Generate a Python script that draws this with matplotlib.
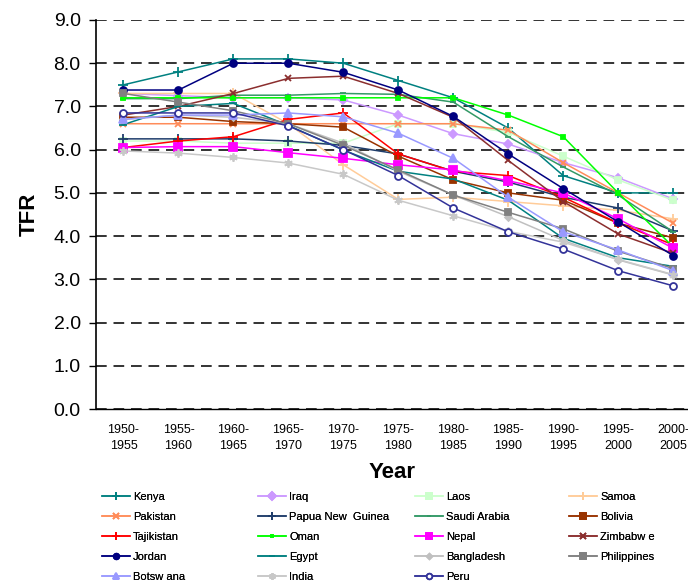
#!/usr/bin/env python3
# -*- coding: utf-8 -*-

import matplotlib
matplotlib.use('Agg')
import matplotlib.pyplot as plt

plt.rcParams['font.family'] = ['Liberation Sans', 'DejaVu Sans']

periods = ['1950-\n1955', '1955-\n1960', '1960-\n1965', '1965-\n1970', '1970-\n1975',
           '1975-\n1980', '1980-\n1985', '1985-\n1990', '1990-\n1995', '1995-\n2000',
           '2000-\n2005']

# TFR per country
kenya = [7.5, 7.8, 8.1, 8.1, 8.0, 7.6, 7.2, 6.5, 5.4, 5.0, 5.0]
iraq = [7.3, 7.25, 7.2, 7.2, 7.15, 6.8, 6.37, 6.13, 5.7, 5.35, 4.86]
laos = [6.2, 6.2, 6.15, 6.15, 6.15, 6.6, 6.6, 6.4, 5.85, 5.3, 4.83]
samoa = [7.3, 7.3, 7.3, 6.6, 5.65, 4.85, 4.9, 4.8, 4.7, 4.6, 4.4]
pakistan = [6.6, 6.6, 6.6, 6.6, 6.6, 6.6, 6.6, 6.45, 5.7, 5.0, 4.3]
png = [6.25, 6.25, 6.25, 6.2, 6.1, 5.9, 5.5, 5.25, 4.9, 4.65, 4.12]
saudi = [7.18, 7.18, 7.26, 7.26, 7.3, 7.28, 7.1, 6.3, 5.6, 4.95, 4.1]
bolivia = [6.75, 6.75, 6.65, 6.6, 6.52, 5.85, 5.3, 5.0, 4.83, 4.3, 3.96]
tajikistan = [6.05, 6.2, 6.3, 6.7, 6.85, 5.9, 5.5, 5.4, 4.9, 4.3, 3.8]
oman = [7.2, 7.2, 7.2, 7.2, 7.2, 7.2, 7.2, 6.8, 6.3, 5.0, 3.75]
nepal = [6.05, 6.07, 6.07, 5.93, 5.8, 5.65, 5.53, 5.28, 5.0, 4.4, 3.72]
zimbabwe = [6.8, 7.0, 7.3, 7.65, 7.7, 7.3, 6.75, 5.75, 4.8, 4.05, 3.6]
jordan = [7.38, 7.38, 8.0, 8.0, 7.79, 7.38, 6.77, 5.9, 5.1, 4.33, 3.55]
egypt = [6.58, 7.0, 7.07, 6.56, 5.99, 5.5, 5.32, 4.83, 3.95, 3.5, 3.3]
bangladesh = [6.7, 6.8, 6.75, 6.6, 6.15, 5.5, 4.95, 4.45, 3.9, 3.45, 3.1]
philippines = [7.3, 7.1, 6.9, 6.6, 6.1, 5.53, 4.95, 4.55, 4.17, 3.65, 3.25]
botswana = [6.7, 6.8, 6.8, 6.85, 6.76, 6.38, 5.8, 4.9, 4.1, 3.68, 3.2]
india = [5.97, 5.92, 5.82, 5.69, 5.43, 4.83, 4.47, 4.11, 3.86, 3.46, 3.11]
peru = [6.85, 6.85, 6.85, 6.55, 6.0, 5.4, 4.65, 4.1, 3.7, 3.2, 2.85]

names = ['Kenya', 'Iraq', 'Laos', 'Samoa', 'Pakistan', 'Papua New  Guinea',
         'Saudi Arabia', 'Bolivia', 'Tajikistan', 'Oman', 'Nepal', 'Zimbabw e',
         'Jordan', 'Egypt', 'Bangladesh', 'Philippines', 'Botsw ana', 'India', 'Peru']
values = [kenya, iraq, laos, samoa, pakistan, png, saudi, bolivia, tajikistan, oman,
          nepal, zimbabwe, jordan, egypt, bangladesh, philippines, botswana, india, peru]

# (line colour, marker, marker face, marker size)
styles = [
    ('#008080', '+', '#008080', 7),
    ('#CC99FF', 'D', '#CC99FF', 4.5),
    ('#CCFFCC', 's', '#CCFFCC', 5),
    ('#FFCC99', '+', '#FFCC99', 7),
    ('#FF8C5A', 'x', '#FF7F40', 5),
    ('#1F3D6B', '+', '#1F3D6B', 7),
    ('#339966', '_', '#339966', 4),
    ('#993300', 's', '#993300', 5),
    ('#FF0000', '+', '#FF0000', 7),
    ('#00FF00', 's', '#00FF00', 2.5),
    ('#FF00FF', 's', '#FF00FF', 6),
    ('#8B2E2E', 'x', '#8B2E2E', 5),
    ('#000080', 'o', '#000080', 5),
    ('#008080', '_', '#008080', 6),
    ('#C0C0C0', 'D', '#C0C0C0', 3.5),
    ('#808080', 's', '#808080', 5),
    ('#9999FF', '^', '#9999FF', 6),
    ('#C8C8C8', (6, 2, 0), '#C8C8C8', 6),
    ('#333399', 'o', 'white', 5),
]

fig = plt.figure(figsize=(6.88, 5.83), dpi=100)
ax = fig.add_axes([96 / 688, 174 / 583, 592 / 688, 389 / 583])

x = list(range(len(periods)))
handles = []
for name, vals, (col, mk, face, ms) in zip(names, values, styles):
    h, = ax.plot(x, vals, color=col, lw=1.1, marker=mk, ms=ms, mfc=face,
                 mec=col, mew=1.3, label=name, clip_on=False)
    handles.append(h)

ax.set_xlim(-0.5, 10.27)
ax.set_ylim(0, 9)
ax.set_yticks([i * 1.0 for i in range(10)])
ax.set_yticklabels([f'{i:.1f}' for i in range(10)], fontsize=14)
ax.set_xticks(x)
ax.set_xticklabels(periods, fontsize=9, linespacing=1.45)
ax.tick_params(axis='y', direction='out', length=5, width=1, pad=6)
ax.tick_params(axis='x', direction='out', length=0, pad=11)

ax.grid(axis='y', color='#333333', ls=(0, (5.5, 3.5)), lw=1.4)
ax.set_axisbelow(True)
for s in ['top', 'right']:
    ax.spines[s].set_visible(False)
ax.spines['left'].set_linewidth(1.2)
ax.spines['bottom'].set_linewidth(1.0)

ax.set_ylabel('TFR', fontsize=16, fontweight='bold', labelpad=10)
ax.set_xlabel('Year', fontsize=16, fontweight='bold', labelpad=7)

# legend in four equal columns, filled row by row
col_x = [102, 258, 415, 569]
for j in range(4):
    hs = handles[j::4]
    lg = fig.legend(handles=hs, labels=[h.get_label() for h in hs],
                    loc='upper left', bbox_to_anchor=(col_x[j] / 688, 1 - 492 / 583),
                    frameon=False, fontsize=8, handlelength=2.5, handletextpad=0.3,
                    labelspacing=0.9, borderaxespad=0, borderpad=0, markerscale=0.8)
    fig.add_artist(lg)

fig.savefig('out.png', dpi=100)
